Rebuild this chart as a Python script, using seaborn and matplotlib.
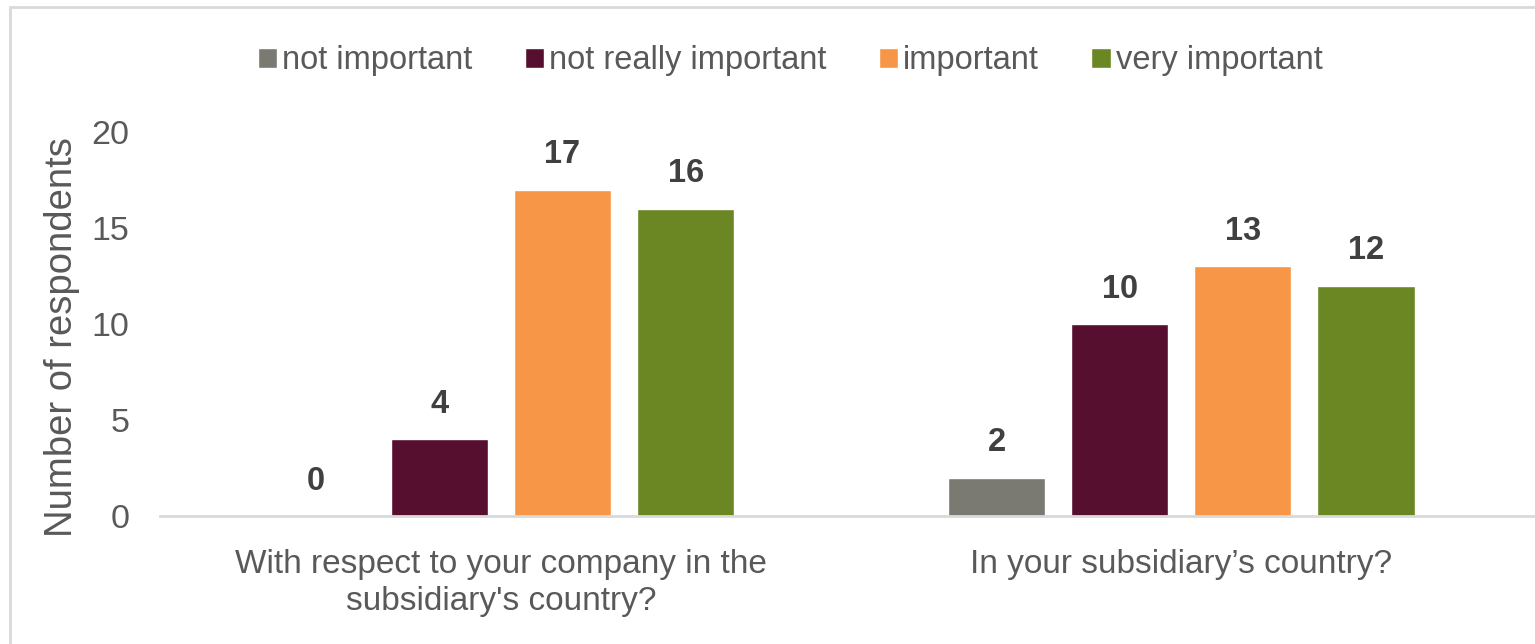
import matplotlib
matplotlib.use("Agg")
import matplotlib.pyplot as plt
import seaborn as sns
import pandas as pd
from matplotlib.patches import Rectangle

categories = ["With respect to your company in the\nsubsidiary's country?",
              "In your subsidiary\u2019s country?"]
levels = ["not important", "not really important", "important", "very important"]
not_important = [0, 2]
not_really_important = [4, 10]
important = [17, 13]
very_important = [16, 12]
colors = ["#7a7a72", "#570f30", "#f79646", "#6a8723"]

series = [not_important, not_really_important, important, very_important]
rows = []
for lvl, vals in zip(levels, series):
    for cat, v in zip(categories, vals):
        rows.append({"category": cat, "level": lvl, "value": v})
df = pd.DataFrame(rows)

sns.set_theme(style="white")
plt.rcParams['font.family'] = ['Liberation Sans', 'DejaVu Sans']

fig = plt.figure(figsize=(15.35, 6.44), dpi=100)
ax = fig.add_axes([160/1535, 128/644, 1 - 160/1535, 384/644])

sns.barplot(data=df, x="category", y="value", hue="level", order=categories,
            hue_order=levels, palette=colors, width=0.724, gap=0.21,
            saturation=1, ax=ax, legend=True)

ax.set_ylim(0, 20)
ax.set_xlim(-0.501, 1.52)
ax.set_yticks([0, 5, 10, 15, 20])
ax.tick_params(axis='y', labelsize=24.5, colors="#595959", length=0, pad=22)
ax.tick_params(axis='x', labelsize=24, colors="#595959", length=0, pad=24)
for t in ax.get_xticklabels():
    t.set_linespacing(1.25)
ax.set_xlabel("")
ax.set_ylabel("Number of respondents", fontsize=27.5, color="#595959")
ax.yaxis.set_label_coords(-0.058, 0.466)
for s in ["top", "right", "left"]:
    ax.spines[s].set_visible(False)
ax.spines["bottom"].set_color("#d9d9d9")
ax.spines["bottom"].set_linewidth(2)

for cont in ax.containers:
    ax.bar_label(cont, fmt="%d", padding=14, fontsize=23.5, fontweight="bold",
                 color="#404040")

handles, labels = ax.get_legend_handles_labels()
ax.legend(handles, labels, loc="center", bbox_to_anchor=(790/1535, 1 - 61/644),
          bbox_transform=fig.transFigure, ncol=4, frameon=False,
          fontsize=23.5, handlelength=0.6, handleheight=0.6, handletextpad=0.15,
          columnspacing=1.6, labelcolor="#595959")

fig.patches.append(Rectangle((10/1535, -0.1), 1.2, 1.1 - 7/644,
                             transform=fig.transFigure, fill=False,
                             edgecolor="#d9d9d9", linewidth=2))

fig.savefig("out.png", dpi=100)
